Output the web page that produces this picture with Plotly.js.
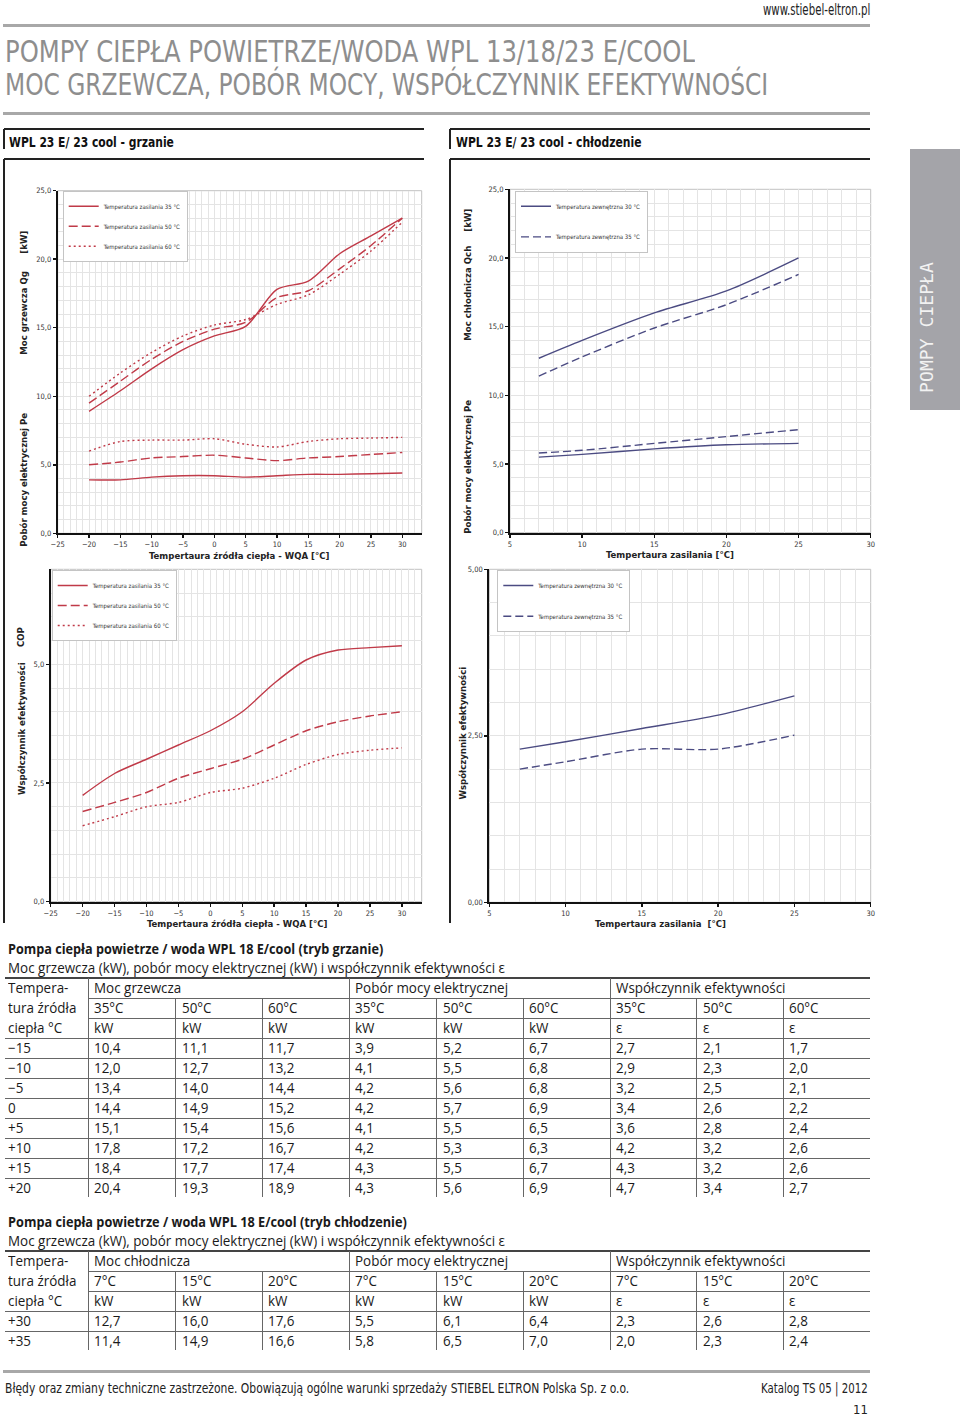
<!DOCTYPE html>
<html><head><meta charset="utf-8">
<script src="https://cdn.plot.ly/plotly-3.0.1.min.js"></script>
<style>
html,body{margin:0;padding:0;background:#fff;}
#page{position:relative;width:960px;height:1416px;overflow:hidden;background:#fff;}
#plot{position:absolute;left:0;top:0;width:960px;height:1416px;}
.t{position:absolute;white-space:nowrap;line-height:1;}
.ln{position:absolute;}
</style></head><body><div id="page"><div id="plot"></div></div>
<script>
// ---------------- DATA ----------------
const heatX = [-20,-15,-10,-5,0,5,10,15,20,25,30];
const heatQg35 = [8.9,10.4,12.0,13.4,14.4,15.1,17.8,18.4,20.4,21.7,23.0];
const heatQg50 = [9.5,11.1,12.7,14.0,14.9,15.4,17.2,17.7,19.3,21.0,23.0];
const heatQg60 = [10.0,11.7,13.2,14.4,15.2,15.6,16.7,17.4,18.9,20.6,22.7];
const heatPe35 = [3.9,3.9,4.1,4.2,4.2,4.1,4.2,4.3,4.3,4.35,4.4];
const heatPe50 = [5.0,5.2,5.5,5.6,5.7,5.5,5.3,5.5,5.6,5.75,5.9];
const heatPe60 = [6.0,6.7,6.8,6.8,6.9,6.5,6.3,6.7,6.9,6.95,7.0];
const heatCop35 = [2.24,2.7,3.0,3.3,3.6,4.0,4.6,5.09,5.3,5.35,5.39];
const heatCop50 = [1.9,2.09,2.3,2.6,2.8,3.0,3.3,3.6,3.79,3.91,4.0];
const heatCop60 = [1.6,1.79,2.0,2.09,2.3,2.39,2.6,2.89,3.1,3.19,3.24];

const coolX = [7,10,15,20,25];
const coolQ30 = [12.7,14.0,16.0,17.6,20.0];
const coolQ35 = [11.4,12.8,14.9,16.6,18.8];
const coolPe30 = [5.5,5.7,6.1,6.4,6.5];
const coolPe35 = [5.8,6.0,6.5,7.0,7.5];
const coolCop30 = [2.3,2.41,2.61,2.81,3.1];
const coolCop35 = [2.0,2.11,2.3,2.3,2.51];

const heatNames = ['Temperatura zasilania 35 °C','Temperatura zasilania 50 °C','Temperatura zasilania 60 °C'];
const coolNames = ['Temperatura zewnętrzna 30 °C','Temperatura zewnętrzna 35 °C'];

// tables
const tHeatTemps = ['−15','−10','−5','0','+5','+10','+15','+20'];
const tHeatQg35 = [10.4,12.0,13.4,14.4,15.1,17.8,18.4,20.4];
const tHeatQg50 = [11.1,12.7,14.0,14.9,15.4,17.2,17.7,19.3];
const tHeatQg60 = [11.7,13.2,14.4,15.2,15.6,16.7,17.4,18.9];
const tHeatPe35 = [3.9,4.1,4.2,4.2,4.1,4.2,4.3,4.3];
const tHeatPe50 = [5.2,5.5,5.6,5.7,5.5,5.3,5.5,5.6];
const tHeatPe60 = [6.7,6.8,6.8,6.9,6.5,6.3,6.7,6.9];
const tHeatE35 = [2.7,2.9,3.2,3.4,3.6,4.2,4.3,4.7];
const tHeatE50 = [2.1,2.3,2.5,2.6,2.8,3.2,3.2,3.4];
const tHeatE60 = [1.7,2.0,2.1,2.2,2.4,2.6,2.6,2.7];
const tHeatCols = ['35°C','50°C','60°C'];

const tCoolTemps = ['+30','+35'];
const tCoolQ7 = [12.7,11.4], tCoolQ15 = [16.0,14.9], tCoolQ20 = [17.6,16.6];
const tCoolPe7 = [5.5,5.8], tCoolPe15 = [6.1,6.5], tCoolPe20 = [6.4,7.0];
const tCoolE7 = [2.3,2.0], tCoolE15 = [2.6,2.3], tCoolE20 = [2.8,2.4];
const tCoolCols = ['7°C','15°C','20°C'];

// ---------------- STYLE ----------------
const W = 960, H = 1416;
const NARROW = '"Liberation Sans Narrow","DejaVu Sans Condensed","Arial Narrow","Open Sans",sans-serif';
const TFONT = '"Open Sans","Noto Sans",sans-serif';
const MONO = '"DejaVu Sans Mono","Liberation Mono",monospace';
const RED = '#c03a48', BLUE = '#4b4b82', GRID = '#e4e4e4';
const px = x => x / W, py = y => 1 - y / H;
const domX = (a, b) => [a / W, b / W];
const domY = (t, b) => [1 - b / H, 1 - t / H];

function xa(d, range, anchor) {
  return {domain: domX(d[0], d[1]), range, anchor, dtick: 5, tick0: 0, showgrid: true, gridcolor: GRID, gridwidth: 1,
    minor: {dtick: 1, showgrid: true, gridcolor: GRID, gridwidth: 1},
    showline: true, linecolor: '#111', linewidth: 2, ticks: 'outside', ticklen: 3, tickwidth: 1.5, tickcolor: '#111',
    tickfont: {family: NARROW, size: 7.5, color: '#333'}, zeroline: false, fixedrange: true};
}
function ya(d, range, anchor, dtick, minor, fmt) {
  return {domain: domY(d[0], d[1]), range, anchor, dtick, tick0: 0, tickformat: fmt, showgrid: true, gridcolor: GRID, gridwidth: 1,
    minor: {dtick: minor, showgrid: true, gridcolor: GRID, gridwidth: 1},
    showline: true, linecolor: '#111', linewidth: 2, ticks: 'outside', ticklen: 3, tickwidth: 1.5, tickcolor: '#111',
    tickfont: {family: NARROW, size: 7.5, color: '#333'}, zeroline: false, fixedrange: true};
}

const traces = [];
function tr(x, y, name, xaK, yaK, color, dash, legend, group, show) {
  traces.push({type: 'scatter', mode: 'lines', x, y, name, xaxis: xaK, yaxis: yaK,
    line: {color, width: 1.4, dash, shape: 'spline', smoothing: 0.8},
    legend, legendgroup: group, showlegend: show, hoverinfo: 'skip'});
}
const hDash = ['solid', '9px,4px', '2px,3px'];
const hQg = [heatQg35, heatQg50, heatQg60], hPe = [heatPe35, heatPe50, heatPe60], hCop = [heatCop35, heatCop50, heatCop60];
for (let i = 0; i < 3; i++) {
  tr(heatX, hQg[i], heatNames[i], 'x', 'y', RED, hDash[i], 'legend', 'a' + i, true);
  tr(heatX, hPe[i], heatNames[i], 'x', 'y', RED, hDash[i], 'legend', 'a' + i, false);
  tr(heatX, hCop[i], heatNames[i], 'x3', 'y3', RED, hDash[i], 'legend3', 'c' + i, true);
}
const cDash = ['solid', '8px,4px'];
const cQ = [coolQ30, coolQ35], cPe = [coolPe30, coolPe35], cCop = [coolCop30, coolCop35];
for (let i = 0; i < 2; i++) {
  tr(coolX, cQ[i], coolNames[i], 'x2', 'y2', BLUE, cDash[i], 'legend2', 'b' + i, true);
  tr(coolX, cPe[i], coolNames[i], 'x2', 'y2', BLUE, cDash[i], 'legend2', 'b' + i, false);
  tr(coolX, cCop[i], coolNames[i], 'x4', 'y4', BLUE, cDash[i], 'legend4', 'd' + i, true);
}

function leg(x, y, gap) {
  return {x: px(x), y: py(y), xanchor: 'left', yanchor: 'top', bgcolor: '#fff', bordercolor: '#c4c4c4', borderwidth: 1,
    font: {family: NARROW, size: 6, color: '#333'}, traceorder: 'grouped', tracegroupgap: gap, itemwidth: 30};
}
function ann(text, x, y, rot) {
  return {text, x: px(x), y: py(y), xref: 'paper', yref: 'paper', showarrow: false, textangle: rot || 0,
    xanchor: 'center', yanchor: 'middle', font: {family: NARROW, size: 9.5, color: '#222', weight: 'bold'}};
}
function border(xk, yk) {
  return {type: 'rect', xref: xk + ' domain', yref: yk + ' domain', x0: 0, x1: 1, y0: 0, y1: 1,
    line: {color: '#c2c2c2', width: 1}, layer: 'below'};
}

const layout = {
  width: W, height: H, margin: {l: 0, r: 0, t: 0, b: 0}, paper_bgcolor: '#fff', plot_bgcolor: '#fff',
  separators: ', ', font: {family: NARROW, size: 8, color: '#333'}, showlegend: true,
  xaxis: xa([57.7, 421.7], [-25, 33.1], 'y'), yaxis: ya([190.7, 533.3], [0, 25], 'x', 5, 1, '.1f'),
  xaxis2: xa([510, 870.7], [5, 30], 'y2'), yaxis2: ya([189.3, 532.7], [0, 25], 'x2', 5, 1, '.1f'),
  xaxis3: xa([50.7, 421.7], [-25, 33.1], 'y3'), yaxis3: ya([569.3, 901.7], [0, 7], 'x3', 2.5, 0.5, '.1f'),
  xaxis4: xa([489.3, 870.7], [5, 30], 'y4'), yaxis4: ya([569.3, 902.3], [0, 5], 'x4', 2.5, 0.5, '.2f'),
  legend: leg(62.7, 190.7, 1), legend2: leg(515, 190.7, 11.7), legend3: leg(51.7, 570, 1), legend4: leg(497.3, 570, 11.7),
  shapes: [border('x', 'y'), border('x2', 'y2'), border('x3', 'y3'), border('x4', 'y4')],
  annotations: [
    ann('Moc grzewcza Qg', 22.7, 313, -90), ann('[kW]', 22.7, 242, -90), ann('Pobór mocy elektrycznej Pe', 22.7, 480, -90),
    ann('Tempertaura źródła ciepła - WQA [°C]', 239, 555.5),
    ann('Moc chłodnicza Qch', 467.7, 293, -90), ann('[kW]', 467.7, 220, -90), ann('Pobór mocy elektrycznej Pe', 467.7, 467, -90),
    ann('Tempertaura zasilania [°C]', 670, 555),
    ann('COP', 21, 637, -90), ann('Współczynnik efektywności', 21, 729, -90),
    ann('Tempertaura źródła ciepła - WQA [°C]', 237, 923.5),
    ann('Współczynnik efektywności', 461.5, 733, -90),
    ann('Tempertaura zasilania  [°C]', 660, 923.5)
  ]
};

Plotly.newPlot('plot', traces, layout, {staticPlot: true, displayModeBar: false});

// ---------------- HTML TEXT / LINES ----------------
const page = document.getElementById('page');
function txt(s, o) {
  const d = document.createElement('div');
  d.className = 't';
  d.textContent = s;
  d.style.fontFamily = o.f || TFONT;
  d.style.fontSize = (o.size || 14) + 'px';
  d.style.fontWeight = o.bold ? '700' : '400';
  d.style.color = o.color || '#1a1a1a';
  page.appendChild(d);
  const w = d.offsetWidth, h = d.offsetHeight;
  const sx = o.w ? o.w / w : (o.sx || 1);
  if (o.rot) {
    d.style.left = (o.x - w / 2) + 'px';
    d.style.top = (o.y - h / 2) + 'px';
    d.style.transformOrigin = '50% 50%';
    d.style.transform = 'rotate(' + o.rot + 'deg) scaleX(' + sx + ')';
  } else {
    d.style.transformOrigin = '0 50%';
    d.style.transform = 'scaleX(' + sx + ')';
    d.style.left = (o.align === 'r' ? o.x - w * sx : o.x) + 'px';
    d.style.top = (o.y - h / 2) + 'px';
  }
  return sx;
}
function box(x, y, w, h, c) {
  const d = document.createElement('div');
  d.className = 'ln';
  d.style.left = x + 'px'; d.style.top = y + 'px'; d.style.width = w + 'px'; d.style.height = h + 'px';
  d.style.background = c;
  page.appendChild(d);
}
const hline = (x1, x2, y, th, c) => box(x1, y - th / 2, x2 - x1, th, c);
const vline = (x, y1, y2, th, c) => box(x - th / 2, y1, th, y2 - y1, c);

// header
txt('www.stiebel-eltron.pl', {x: 870, y: 10, size: 16, f: NARROW, align: 'r', w: 107, color: '#222'});
hline(3, 870, 25.5, 3, '#a8a8a8');
txt('POMPY CIEPŁA POWIETRZE/WODA WPL 13/18/23 E/COOL', {x: 5, y: 51.5, size: 30, f: NARROW, w: 690, color: '#8e8e8e'});
txt('MOC GRZEWCZA, POBÓR MOCY, WSPÓŁCZYNNIK EFEKTYWNOŚCI', {x: 5, y: 84.5, size: 30, f: NARROW, w: 763, color: '#8e8e8e'});
hline(3, 870, 113, 3, '#a8a8a8');

// section boxes
[[4, 424], [450, 870]].forEach(([a, b]) => {
  hline(a, b, 129, 2, '#222');
  vline(a, 129, 149, 2, '#222');
  hline(a, b, 159, 2, '#222');
  vline(a, 159, 923, 2, '#222');
});
txt('WPL 23 E/ 23 cool - grzanie', {x: 9, y: 141.5, size: 14, bold: true, f: NARROW, w: 165, color: '#111'});
txt('WPL 23 E/ 23 cool - chłodzenie', {x: 456, y: 141.5, size: 14, bold: true, f: NARROW, w: 186, color: '#111'});

// side tab
box(910, 149, 50, 261, '#a4a4a9');
txt('POMPY CIEPŁA', {x: 927, y: 327, size: 17, f: MONO, rot: -90, w: 131, color: '#f2f2f2'});

// tables
const colX = [5, 88.3, 175.7, 262.3, 349, 436.7, 523.3, 610, 696.7, 783.3, 870];
const fmt = v => v.toFixed(1).replace('.', ',');
function table(top, title, titleW, groups, temps, units, rowLabels, cols) {
  txt(title, {x: 8, y: top - 30, size: 15, bold: true, f: TFONT, w: titleW});
  const sc = txt('Moc grzewcza (kW), pobór mocy elektrycznej (kW) i współczynnik efektywności ε', {x: 8, y: top - 10, size: 14, f: TFONT, w: 497});
  const n = rowLabels.length;
  const bottom = top + 20 * (3 + n) - 1;
  hline(5, 870, top, 2, '#444');
  hline(88.3, 870, top + 20, 1, '#666');
  hline(88.3, 870, top + 40, 1, '#666');
  for (let r = 0; r < n; r++) hline(5, 870, top + 60 + 20 * r, 1, '#666');
  for (let c = 1; c < 10; c++) vline(colX[c], (c % 3 === 1) ? top : top + 20, bottom, 1, '#666');
  const cell = (s, c, r) => txt(s, {x: c === 0 ? 8 : colX[c] + 6, y: top + 10 + 20 * r, size: 14, f: TFONT, sx: sc});
  ['Tempera-', 'tura źródła', 'ciepła °C'].forEach((s, r) => cell(s, 0, r));
  groups.forEach((g, i) => cell(g, 1 + 3 * i, 0));
  for (let c = 0; c < 9; c++) { cell(temps[c % 3], c + 1, 1); cell(units[c], c + 1, 2); }
  rowLabels.forEach((s, r) => cell(s, 0, 3 + r));
  cols.forEach((arr, c) => arr.forEach((v, r) => cell(fmt(v), c + 1, 3 + r)));
}
table(978.3, 'Pompa ciepła powietrze / woda WPL 18 E/cool (tryb grzanie)', 375,
  ['Moc grzewcza', 'Pobór mocy elektrycznej', 'Współczynnik efektywności'], tHeatCols,
  ['kW', 'kW', 'kW', 'kW', 'kW', 'kW', 'ε', 'ε', 'ε'], tHeatTemps,
  [tHeatQg35, tHeatQg50, tHeatQg60, tHeatPe35, tHeatPe50, tHeatPe60, tHeatE35, tHeatE50, tHeatE60]);
table(1251.3, 'Pompa ciepła powietrze / woda WPL 18  E/cool (tryb chłodzenie)', 399,
  ['Moc chłodnicza', 'Pobór mocy elektrycznej', 'Współczynnik efektywności'], tCoolCols,
  ['kW', 'kW', 'kW', 'kW', 'kW', 'kW', 'ε', 'ε', 'ε'], tCoolTemps,
  [tCoolQ7, tCoolQ15, tCoolQ20, tCoolPe7, tCoolPe15, tCoolPe20, tCoolE7, tCoolE15, tCoolE20]);

// footer
hline(3, 870, 1371, 3, '#a8a8a8');
txt('Błędy oraz zmiany techniczne zastrzeżone. Obowiązują ogólne warunki sprzedaży STIEBEL ELTRON Polska Sp. z o.o.', {x: 5, y: 1388, size: 14, f: NARROW, w: 624, color: '#222'});
txt('Katalog TS 05 | 2012', {x: 868, y: 1388, size: 14, f: NARROW, align: 'r', w: 107, color: '#222'});
txt('11', {x: 868, y: 1409, size: 13, f: NARROW, align: 'r', color: '#222'});
</script></body></html>
